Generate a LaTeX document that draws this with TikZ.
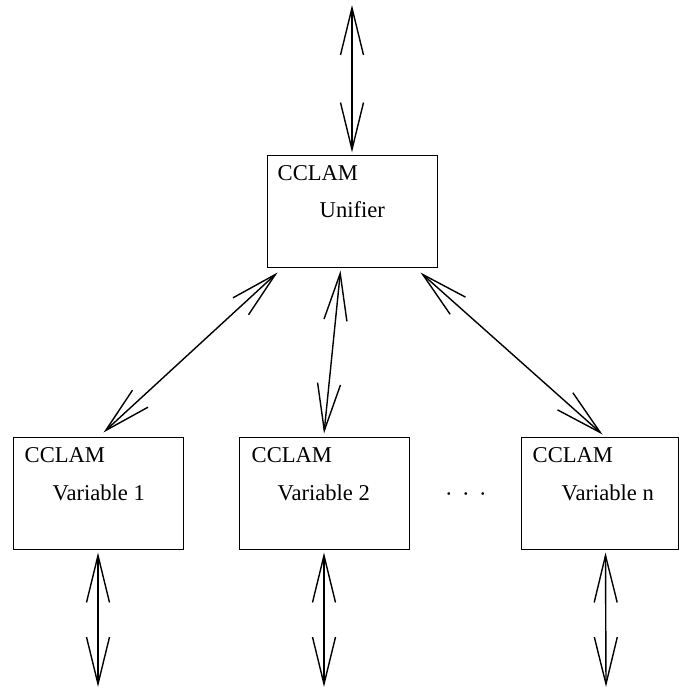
\documentclass[tikz,border=0pt]{standalone}
\usepackage{fontspec}
\setmainfont{Liberation Serif}
\usetikzlibrary{arrows.meta,calc}
\begin{document}
\begin{tikzpicture}[x=1pt,y=-1pt,
  box/.style={draw, line width=1pt, minimum width=170pt, minimum height=112pt, inner sep=0pt},
  lbl/.style={anchor=base west, inner sep=0pt, font=\fontsize{22.6}{26}\selectfont},
  barbtip/.tip={Straight Barb[length=47pt,width=23pt]},
  link/.style={line width=1.4pt, barbtip-barbtip}]
\useasboundingbox (0,0) rectangle (679,688);
% boxes
\node[box] (U) at (352,211) {};
\node[box] (V1) at (98,493) {};
\node[box] (V2) at (324,493) {};
\node[box, minimum width=157pt] (Vn) at (599.5,493) {};
% labels
\node[lbl] (Uc) at ($(U.north west)+(11,26)$) {CCLAM};
\node[lbl] (Ut) at ($(U.north west)+(53,63)$) {Unifier};
\node[lbl] (V1c) at ($(V1.north west)+(12,26)$) {CCLAM};
\node[lbl] (V1t) at ($(V1.north west)+(40,64)$) {Variable 1};
\node[lbl] (V2c) at ($(V2.north west)+(13,26)$) {CCLAM};
\node[lbl] (V2t) at ($(V2.north west)+(39,64)$) {Variable 2};
\node[lbl] (Vnc) at ($(Vn.north west)+(12,26)$) {CCLAM};
\node[lbl] (Vnt) at ($(Vn.north west)+(41,64)$) {Variable n};
\node[lbl] (dots) at (445,501) {·\hspace{9.5pt}·\hspace{9.5pt}·};
% free ends
\coordinate (top) at (352,5);
\coordinate (b1) at (98,687);
\coordinate (b2) at (324,687);
\coordinate (bn) at (606,687);
% connectors
\draw[link] (top) -- ($(U.north)+(0,-2)$);
\draw[link] ($(U.south west)+(11,5)$) -- ($(V1.north east)+(-80,-4)$);
\draw[link] ($(U.south west)+(74,3)$) -- ($(V2.north)+(0,-3)$);
\draw[link] ($(U.south east)+(-17,5)$) -- ($(Vn.north west)+(82,-2)$);
\draw[link] ($(V1.south)+(0,3)$) -- (b1);
\draw[link] ($(V2.south)+(0,3)$) -- (b2);
\draw[link] ($(Vn.south west)+(85,3)$) -- (bn);
\end{tikzpicture}
\end{document}
